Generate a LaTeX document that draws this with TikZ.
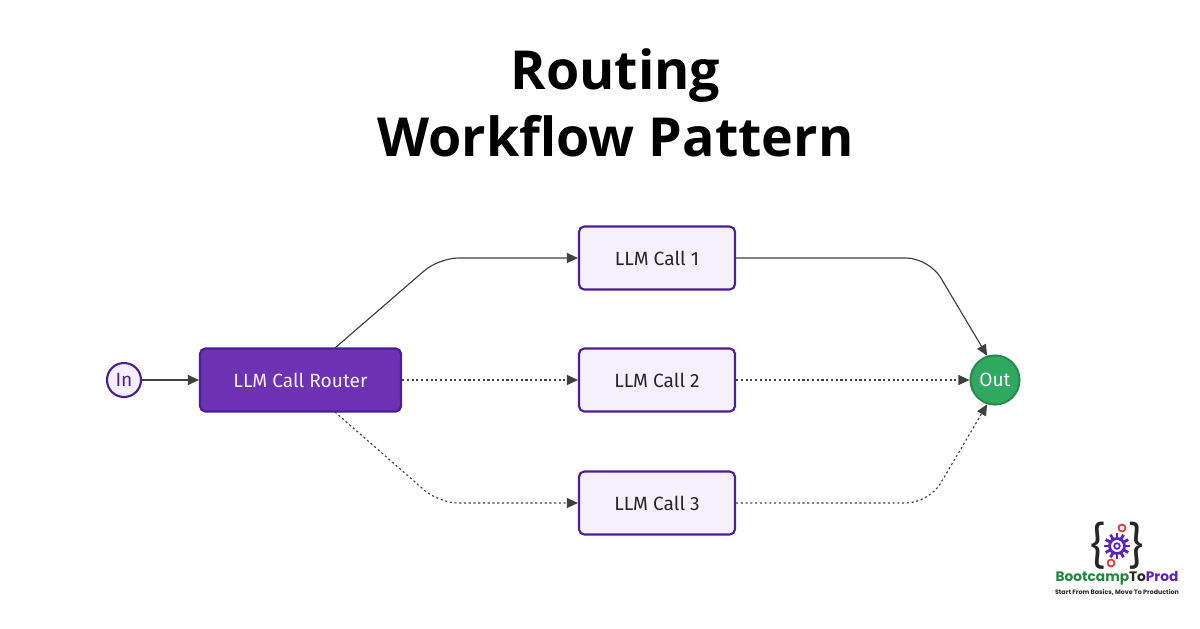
\documentclass[tikz,border=0pt]{standalone}
\usepackage{fontspec}
\usepackage{xcolor}
\setmainfont{Open Sans}
\newfontfamily\labelfont{Fira Sans}
\newfontfamily\logofont{Poppins}
\usetikzlibrary{arrows.meta}

\definecolor{callfill}{HTML}{F6F0FE}
\definecolor{callline}{HTML}{4C1D95}
\definecolor{routerfill}{HTML}{6D32B4}
\definecolor{outfill}{HTML}{2FA860}
\definecolor{outline}{HTML}{2A8A50}
\definecolor{flowline}{HTML}{404040}
\definecolor{logogreen}{HTML}{1E8A3E}
\definecolor{logopurple}{HTML}{5B21C4}
\definecolor{logored}{HTML}{E5383B}

\tikzset{
    callbox/.style={draw=callline, fill=callfill, line width=0.6pt, rounded corners=1.5pt,
        minimum width=1.56cm, minimum height=0.63cm, inner sep=0pt, text=black!85,
        font=\labelfont\fontsize{5.45}{6}\selectfont},
    routerbox/.style={callbox, fill=routerfill, text=callfill, minimum width=2.01cm},
    endpoint/.style={circle, inner sep=0pt, font=\labelfont\fontsize{5.45}{6}\selectfont},
    flow/.style={-{Triangle[length=0.11cm,width=0.1cm]}, flowline, line width=0.33pt},
    dotflow/.style={flow, dash pattern=on 0.6pt off 0.75pt},
}

\begin{document}
\begin{tikzpicture}
    \useasboundingbox (0,0) rectangle (12,6.28);

        % Title
        \node[font=\bfseries\fontsize{15.3}{19}\selectfont, align=center] (title) at (6.155,5.255) {Routing\\Workflow Pattern};

        % Workflow nodes
        \node[endpoint, draw=callline, fill=callfill, line width=0.6pt, minimum size=0.34cm, text=callline] (in) at (1.24,2.48) {In};
        \node[routerbox] (router) at (3.005,2.48) {LLM Call Router};
        \node[callbox] (call1) at (6.57,3.70) {LLM Call 1};
        \node[callbox] (call2) at (6.57,2.48) {LLM Call 2};
        \node[callbox] (call3) at (6.57,1.25) {LLM Call 3};
        \node[endpoint, draw=outline, fill=outfill, line width=0.6pt, minimum size=0.49cm, text=callfill] (out) at (9.95,2.48) {Out};

        % Ends and bends of the outer branches
        \coordinate (routerTop) at (3.35,2.80);
        \coordinate (routerBottom) at (3.35,2.16);
        \coordinate (bendA) at (4.39,3.70);
        \coordinate (bendB) at (4.39,1.25);
        \coordinate (bendC) at (9.29,3.70);
        \coordinate (bendD) at (9.29,1.25);

        % Solid branch
        \draw[flow] (in) -- (router);
        \draw[flow, rounded corners=5.5pt] (routerTop) -- (bendA) -- (call1);
        \draw[flow, rounded corners=6.5pt] (call1) -- (bendC) -- (out.108);

        % Dotted branches
        \draw[dotflow] (router) -- (call2);
        \draw[dotflow] (call2) -- (out);
        \draw[dotflow, rounded corners=5.5pt] (routerBottom) -- (bendB) -- (call3);
        \draw[dotflow, rounded corners=6.5pt] (call3) -- (bendD) -- (out.252);

        % Logo
        \node[font=\logofont\fontsize{12}{12}\selectfont, text=black!85, inner sep=0pt] (braceL) at (10.97,0.82) {\{};
        \node[font=\logofont\fontsize{12}{12}\selectfont, text=black!85, inner sep=0pt] (braceR) at (11.37,0.82) {\}};
        \foreach \a in {0,30,...,330}
            \draw[logopurple, line width=0.8pt] (11.17,0.82) ++(\a:0.08) -- ++(\a:0.05);
        \draw[logopurple, line width=0.8pt] (11.17,0.82) circle (0.075);
        \draw[logopurple, line width=0.5pt] (11.17,0.82) circle (0.028);
        \draw[logored, line width=0.5pt] (11.22,1.00) circle (0.035);
        \draw[logored, line width=0.5pt] (11.11,0.65) circle (0.035);
        \node[font=\logofont\bfseries\fontsize{3.9}{4}\selectfont, inner sep=0pt] (logoname) at (11.17,0.50)
            {\textcolor{logogreen}{Bootcamp}\textcolor{black!85}{To}\textcolor{logopurple}{Prod}};
        \node[font=\logofont\bfseries\fontsize{1.8}{2}\selectfont, text=black!85, inner sep=0pt] (logotag) at (11.17,0.355)
            {Start From Basics, Move To Production};

    \end{tikzpicture}
\end{document}
